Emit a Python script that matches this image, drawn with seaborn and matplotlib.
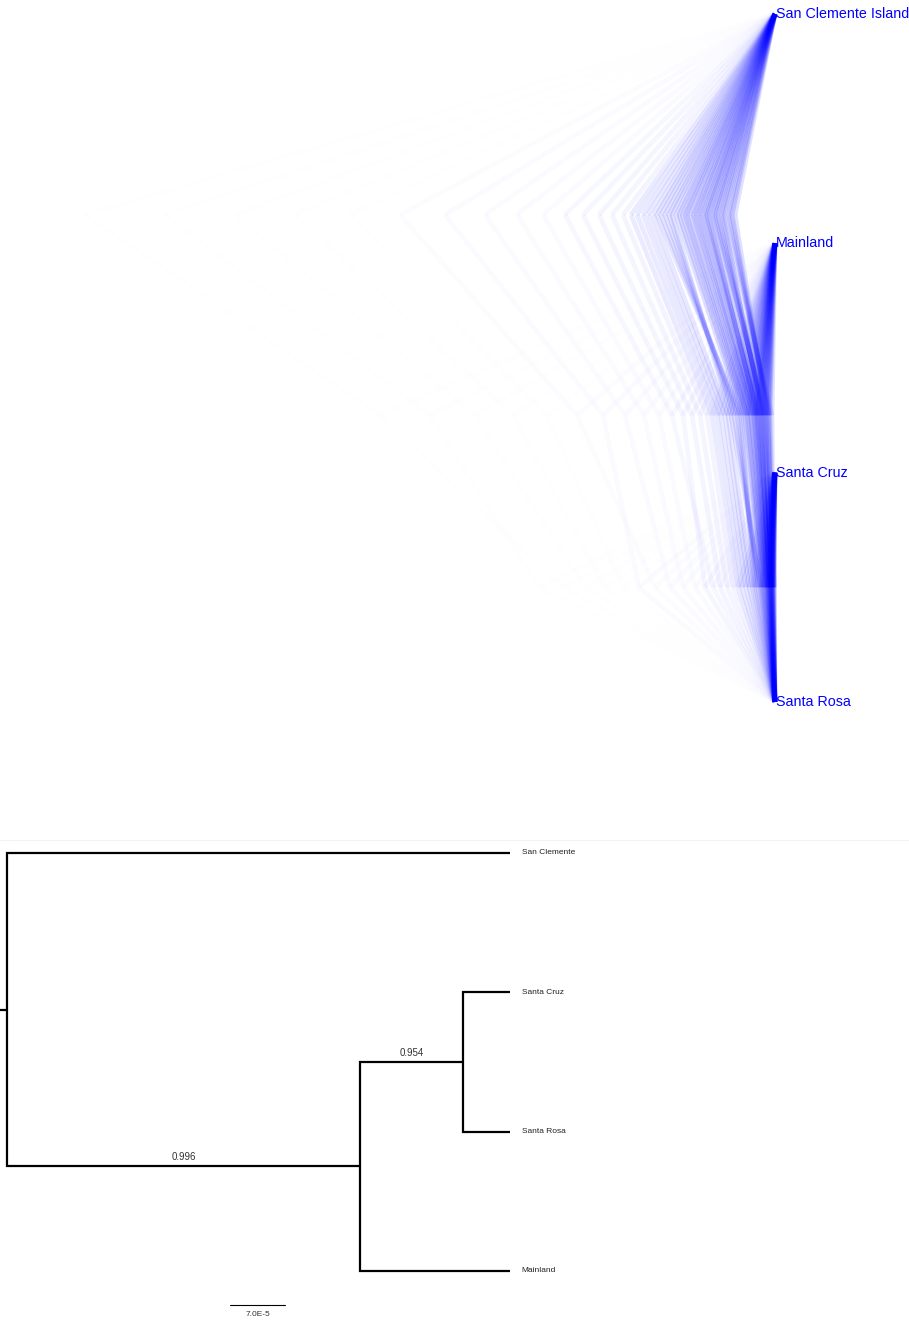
import pandas as pd
import matplotlib
matplotlib.use("Agg")
import matplotlib.pyplot as plt
import seaborn as sns

sns.set_theme(style="white")
plt.rcParams["font.family"] = ["Liberation Sans", "DejaVu Sans"]

# ---------------------------------------------------------------------------
# Posterior tree sample (one entry per sampled tree), node heights above the
# tips, and how many posterior trees each sampled tree stands for.
# Topology: (San Clemente Island, (Mainland, (Santa Cruz, Santa Rosa)))
# ---------------------------------------------------------------------------
root_height = [
    0.45, 0.40, 0.50, 0.43, 0.47,
    0.57, 0.61, 0.52, 0.59, 0.54,
    0.68, 0.63, 0.72, 0.66, 0.70,
    0.80, 0.85, 0.75, 0.82, 0.77,
    0.93, 0.88, 0.99, 0.90, 0.96,
    1.10, 1.03, 1.18, 1.06, 1.14,
    1.32, 1.22, 1.44, 1.27, 1.38,
    1.76, 1.52, 2.10, 1.63, 1.92,
    2.90, 2.32, 3.75, 2.58, 3.30,
    5.40, 4.25, 6.90, 4.80, 6.10,
]
mainland_split_height = [
    0.06, 0.08, 0.03, 0.07, 0.05,
    0.11, 0.09, 0.13, 0.10, 0.12,
    0.17, 0.14, 0.16, 0.18, 0.15,
    0.21, 0.24, 0.19, 0.22, 0.20,
    0.28, 0.25, 0.32, 0.27, 0.30,
    0.38, 0.44, 0.34, 0.41, 0.36,
    0.54, 0.47, 0.63, 0.50, 0.58,
    0.83, 0.68, 1.03, 0.75, 0.92,
    1.50, 1.16, 1.98, 1.31, 1.72,
    3.00, 2.28, 3.95, 2.62, 3.45,
]
island_split_height = [
    0.020, 0.005, 0.015, 0.020, 0.010,
    0.030, 0.040, 0.025, 0.035, 0.030,
    0.050, 0.060, 0.040, 0.045, 0.050,
    0.070, 0.080, 0.060, 0.080, 0.070,
    0.110, 0.090, 0.130, 0.100, 0.120,
    0.170, 0.140, 0.210, 0.150, 0.190,
    0.290, 0.230, 0.370, 0.260, 0.330,
    0.550, 0.420, 0.620, 0.480, 0.700,
    1.050, 0.800, 1.200, 0.920, 1.360,
    1.900, 1.520, 2.120, 1.700, 2.360,
]
tree_count = [
    28, 26, 24, 30, 28,
    32, 30, 32, 30, 32,
    32, 34, 30, 32, 30,
    30, 28, 30, 28, 30,
    28, 28, 26, 28, 26,
    24, 24, 22, 24, 22,
    18, 19, 16, 18, 17,
    8, 9, 6, 8, 7,
    3, 3, 2, 3, 3,
    1, 1, 1, 1, 1,
]
densitree_taxa = ["San Clemente Island", "Mainland", "Santa Cruz", "Santa Rosa"]

# ---------------------------------------------------------------------------
# Consensus tree: branch lengths (substitutions/site) and clade support
# ---------------------------------------------------------------------------
consensus_taxa = ["San Clemente", "Santa Cruz", "Santa Rosa", "Mainland"]
len_san_clemente = 6.40e-4
len_root_to_mainland_clade = 4.49e-4
len_mainland_clade_to_island_clade = 1.31e-4
len_santa_cruz = 6.0e-5
len_santa_rosa = 6.0e-5
len_mainland = 1.91e-4
support_mainland_clade = "0.996"
support_island_clade = "0.954"
scale_bar_length = 7.0e-5
scale_bar_label = "7.0E-5"

BLUE = "#0000ff"
W, H = 909, 1325
fig = plt.figure(figsize=(W / 100, H / 100), dpi=100)
fig.patch.set_facecolor("white")

# ---------------------------- DensiTree panel ------------------------------
top_px = 760
ax_top = fig.add_axes([0, 1 - top_px / H, 1, top_px / H])
tip_step = 229.33
ax_top.set_ylim((top_px - 14) / tip_step, -14 / tip_step)
ax_top.set_xlim(-7.75, 1.34)

y_tip = {name: i for i, name in enumerate(densitree_taxa)}
y_island = (y_tip["Santa Cruz"] + y_tip["Santa Rosa"]) / 2
y_main = (y_tip["Mainland"] + y_island) / 2
y_root = (y_tip["San Clemente Island"] + y_main) / 2

rows = []
edge_alpha = []
per_tree_alpha = 0.005
edge = 0
for r, m, s, c in zip(root_height, mainland_split_height, island_split_height, tree_count):
    segs = [
        ((-r, y_root), (0.0, y_tip["San Clemente Island"])),
        ((-r, y_root), (-m, y_main)),
        ((-m, y_main), (0.0, y_tip["Mainland"])),
        ((-m, y_main), (-s, y_island)),
        ((-s, y_island), (0.0, y_tip["Santa Cruz"])),
        ((-s, y_island), (0.0, y_tip["Santa Rosa"])),
    ]
    a = 1 - (1 - per_tree_alpha) ** c
    for p0, p1 in segs:
        rows.append({"edge": edge, "x": p0[0], "y": p0[1]})
        rows.append({"edge": edge, "x": p1[0], "y": p1[1]})
        edge_alpha.append(a)
        edge += 1
dens = pd.DataFrame(rows)

sns.lineplot(data=dens, x="x", y="y", units="edge", estimator=None, sort=False,
             color=BLUE, lw=3.4, ax=ax_top, legend=False)
for line, a in zip(ax_top.lines, edge_alpha):
    line.set_alpha(a)
    line.set_solid_capstyle("butt")

for name, yi in y_tip.items():
    ax_top.annotate(name, (0.0, yi), xytext=(0.5, 0), textcoords="offset points",
                    ha="left", va="center", color=BLUE, fontsize=10.3)
ax_top.set_axis_off()

# ---------------------------- Consensus tree -------------------------------
bot_px = H - top_px
ax_bot = fig.add_axes([0, 0, 1, bot_px / H])
px = scale_bar_length / 55.0
ax_bot.set_xlim(-7 * px, (W - 7) * px)
row_step = 139.33
ax_bot.set_ylim((H - 853) / row_step, -(853 - top_px) / row_step)

yt = {name: i for i, name in enumerate(consensus_taxa)}
y_isl = (yt["Santa Cruz"] + yt["Santa Rosa"]) / 2
y_ml = (y_isl + yt["Mainland"]) / 2
y_rt = (yt["San Clemente"] + y_ml) / 2

x_rt = 0.0
x_ml = x_rt + len_root_to_mainland_clade
x_isl = x_ml + len_mainland_clade_to_island_clade

paths = [
    [(x_rt, y_rt), (x_rt, yt["San Clemente"]), (x_rt + len_san_clemente, yt["San Clemente"])],
    [(x_rt, y_rt), (x_rt, y_ml), (x_ml, y_ml)],
    [(x_ml, y_ml), (x_ml, y_isl), (x_isl, y_isl)],
    [(x_ml, y_ml), (x_ml, yt["Mainland"]), (x_ml + len_mainland, yt["Mainland"])],
    [(x_isl, y_isl), (x_isl, yt["Santa Cruz"]), (x_isl + len_santa_cruz, yt["Santa Cruz"])],
    [(x_isl, y_isl), (x_isl, yt["Santa Rosa"]), (x_isl + len_santa_rosa, yt["Santa Rosa"])],
    [(-7 * px, y_rt), (x_rt, y_rt)],
]
rows = []
for k, pth in enumerate(paths):
    for xx, yy in pth:
        rows.append({"branch": k, "x": xx, "y": yy})
cons = pd.DataFrame(rows)
sns.lineplot(data=cons, x="x", y="y", units="branch", estimator=None, sort=False,
             color="black", lw=1.6, ax=ax_bot, legend=False,
             solid_joinstyle="miter", solid_capstyle="butt")

tip_x = {
    "San Clemente": x_rt + len_san_clemente,
    "Santa Cruz": x_isl + len_santa_cruz,
    "Santa Rosa": x_isl + len_santa_rosa,
    "Mainland": x_ml + len_mainland,
}
for name, yi in yt.items():
    ax_bot.annotate(name, (tip_x[name], yi), xytext=(8.6, 0), textcoords="offset points",
                    ha="left", va="center", fontsize=6, color="#222222")

ax_bot.annotate(support_mainland_clade, ((x_rt + x_ml) / 2, y_ml), xytext=(0, 3),
                textcoords="offset points", ha="center", va="bottom",
                fontsize=7, color="#333333")
ax_bot.annotate(support_island_clade, ((x_ml + x_isl) / 2, y_isl), xytext=(0, 3),
                textcoords="offset points", ha="center", va="bottom",
                fontsize=7, color="#333333")

# scale bar
sb_x0 = 223 * px
sb_y = (1305 - 853) / row_step
ax_bot.plot([sb_x0, sb_x0 + scale_bar_length], [sb_y, sb_y], color="black", lw=0.8)
ax_bot.annotate(scale_bar_label, (sb_x0 + scale_bar_length / 2, sb_y), xytext=(0, -4),
                textcoords="offset points", ha="center", va="top", fontsize=6,
                color="#333333")

ax_bot.axhline(-(853 - 840) / row_step, color="#f3f3f3", lw=0.8)
ax_bot.set_axis_off()

fig.savefig("out.png", dpi=100, facecolor="white")
